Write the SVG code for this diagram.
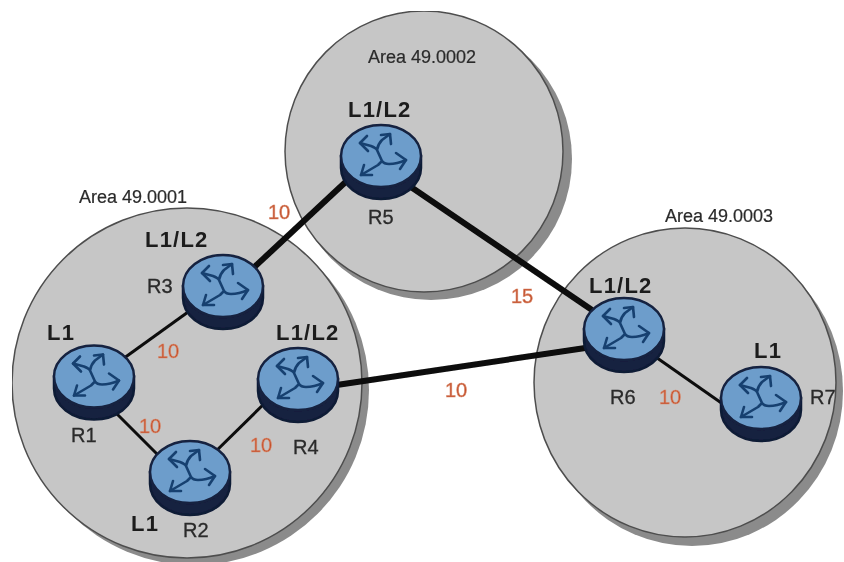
<svg xmlns="http://www.w3.org/2000/svg" width="844" height="562" viewBox="0 0 844 562">
<style>
.area{fill:#c6c6c6;stroke:#4e4e4e;stroke-width:1.5}
.shade{fill:#8b8b8b}
.thin{stroke:#0c0c0c;stroke-width:3;fill:none}
.thick{stroke:#0a0a0a;stroke-width:6;fill:none}
text{font-family:"Liberation Sans",Arial,sans-serif;fill:#2a2a2a}
.an{font-size:18px;stroke:#2a2a2a;stroke-width:.2}
.rl{font-size:20px;stroke:#2a2a2a;stroke-width:.3}
.lv{font-size:22px;font-weight:bold;fill:#1c1c1c;letter-spacing:1.2px}
.m{font-size:20px;fill:#c4502c;stroke:#d98a6c;stroke-width:.6}
.top{fill:#6d9dcb;stroke:#13213f;stroke-width:2.5}
.side{fill:#14203f;stroke:#101a36;stroke-width:2.5}
.ar{fill:none;stroke:#17406f;stroke-width:2.6;stroke-linecap:round;stroke-linejoin:round}
</style>
<defs>
<filter id="soft" x="0" y="0" width="100%" height="100%"><feGaussianBlur stdDeviation="0.45"/></filter>
<g id="router">
<path class="side" d="M-40 0V12A40 31 0 0 0 40 12V0Z"/>
<ellipse class="top" cx="0" cy="0" rx="40" ry="31"/>
<path class="ar" d="M-21 -13L-10 -10Q-5 -8 -4 -6L1 5Q3 8 8 8Q16 8 25 4M9 -22L1 -16Q-3 -12 -4 -6M1 5L-3 9L-20 19"/>
<path class="ar" d="M-14 -20L-21 -13L-13 -5M0 -21L9 -22L10 -12M15 -3L25 4L19 13M-17 9L-20 19L-9 19"/>
</g>
</defs>
<rect width="844" height="562" fill="#fff"/>
<g filter="url(#soft)">
<g id="areas">
<g id="area1"><circle class="shade" cx="194" cy="390" r="175"/><circle class="area" cx="187" cy="383" r="175"/><text class="an" x="79" y="203">Area 49.0001</text></g>
<g id="area3"><ellipse class="shade" cx="692" cy="391" rx="151" ry="155"/><ellipse class="area" cx="685" cy="382.500" rx="151" ry="154.500"/><text class="an" x="665" y="222">Area 49.0003</text></g>
<g id="area2"><ellipse class="shade" cx="431" cy="159" rx="141" ry="141"/><ellipse class="area" cx="424" cy="151.500" rx="139" ry="140.500"/><text class="an" x="368" y="63">Area 49.0002</text></g>
</g>
<g id="connectors">
<path class="thick" d="M248 273L352 176"/>
<path class="thick" d="M408 185L592 310"/>
<path class="thick" d="M330 386L592 347"/>
<path class="thin" d="M120 361L195 307"/>
<path class="thin" d="M112 409L165 462"/>
<path class="thin" d="M210 457L270 398"/>
<path class="thin" d="M650 353L730 409"/>
</g>
<g id="metrics">
<text class="m" x="268" y="219">10</text>
<text class="m" x="157" y="358">10</text>
<text class="m" x="139" y="433">10</text>
<text class="m" x="250" y="452">10</text>
<text class="m" x="445" y="397">10</text>
<text class="m" x="511" y="303">15</text>
<text class="m" x="659" y="404">10</text>
</g>
<g id="R1"><use href="#router" x="94" y="376.500"/><text class="lv" x="47" y="340">L1</text><text class="rl" x="71" y="442">R1</text></g>
<g id="R2"><use href="#router" x="190" y="472"/><text class="lv" x="131" y="531">L1</text><text class="rl" x="183" y="537">R2</text></g>
<g id="R3"><use href="#router" x="223" y="286"/><text class="lv" x="145" y="247">L1/L2</text><text class="rl" x="147" y="293">R3</text></g>
<g id="R4"><use href="#router" x="298" y="379"/><text class="lv" x="276" y="340">L1/L2</text><text class="rl" x="293" y="454">R4</text></g>
<g id="R5"><use href="#router" x="381" y="156"/><text class="lv" x="348" y="117">L1/L2</text><text class="rl" x="368" y="224">R5</text></g>
<g id="R6"><use href="#router" x="624" y="329"/><text class="lv" x="589" y="293">L1/L2</text><text class="rl" x="610" y="404">R6</text></g>
<g id="R7"><use href="#router" x="761" y="398"/><text class="lv" x="754" y="358">L1</text><text class="rl" x="810" y="404">R7</text></g>
</g>
</svg>
